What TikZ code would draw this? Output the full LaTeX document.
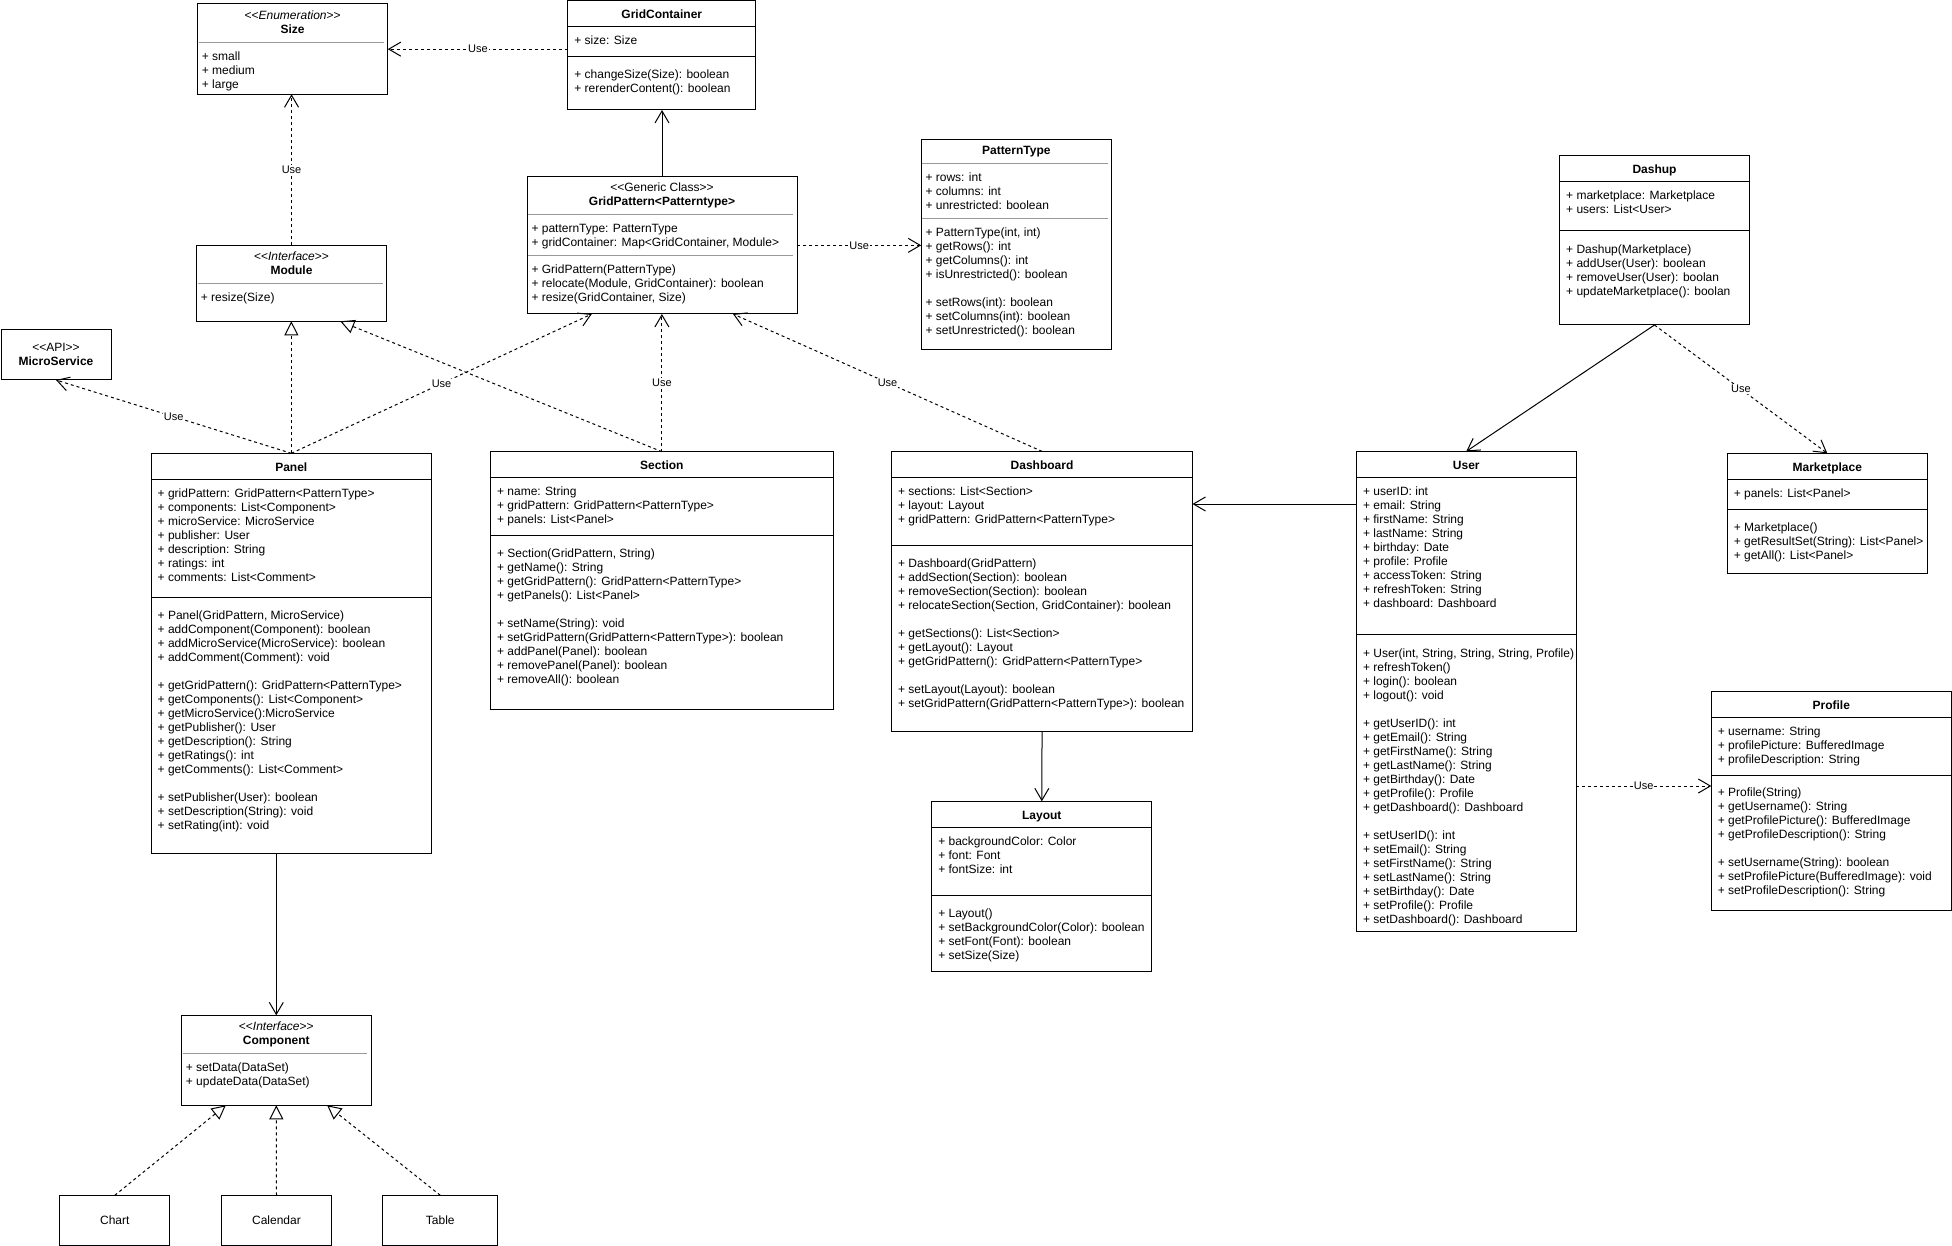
\documentclass[tikz,border=0pt]{standalone}
\usepackage{fontspec}
\setmainfont{Liberation Sans}
\usetikzlibrary{arrows.meta,calc,positioning}

\begin{document}
\begin{tikzpicture}[x=1pt,y=-1pt,line width=1pt,
    box/.style={draw,rectangle,inner sep=0pt,outer sep=0pt,anchor=north west,font=\fontsize{12}{14}\selectfont},
    txt/.style={inner sep=0pt,anchor=north west,align=left,font=\fontsize{12}{14}\selectfont},
    head/.style={inner sep=0pt,anchor=north,align=center,font=\fontsize{12}{14}\selectfont},
    hr/.style={draw=black!40},
    usedep/.style={dash pattern=on 3pt off 3pt,-{Straight Barb[length=12pt,width=14pt]}},
    realize/.style={dash pattern=on 3pt off 3pt,-{Triangle[open,length=14pt,width=14pt]}},
    assoc/.style={-{Straight Barb[length=12pt,width=14pt]}},
    lbl/.style={fill=white,inner sep=1pt,font=\fontsize{11}{13}\selectfont}]

  \useasboundingbox (0,0) rectangle (1952,1246);

  % Size
  \node[box,minimum width=190.4pt,minimum height=90.3pt] (size) at (197.4,4) {};
  \node[head] at (292.6,9.5) {\strut<{}<\textit{Enumeration}>{}>\\\textbf{Size}};
  \draw[hr] (198.5,42.3) -- (384,42.3);
  \node[txt] at (201.4,50.2) {\strut+ small\\+ medium\\+ large};

  % GridContainer
  \node[box,minimum width=187.7pt,minimum height=109pt] (gc) at (567.9,1) {};
  \node[head] at (661.8,7.8) {\strut\textbf{GridContainer}};
  \draw (567.9,26.3) -- (755.6,26.3);
  \node[txt] at (573.9,34.2) {\strut+ size: Size};
  \draw (567.9,56.3) -- (755.6,56.3);
  \node[txt] at (573.9,68.2) {\strut+ changeSize(Size): boolean\\+ rerenderContent(): boolean};

  % GridPattern
  \node[box,minimum width=270pt,minimum height=137.3pt] (gp) at (527,176.7) {};
  \node[head] at (662,181.2) {\strut<{}<Generic Class>{}>\\\textbf{GridPattern<Patterntype>}};
  \draw[hr] (528,214.3) -- (793,214.3);
  \node[txt] at (531,222.2) {\strut+ patternType: PatternType\\+ gridContainer: Map<GridContainer, Module>};
  \draw[hr] (528,255.3) -- (793,255.3);
  \node[txt] at (531,262.8) {\strut+ GridPattern(PatternType)\\+ relocate(Module, GridContainer): boolean\\+ resize(GridContainer, Size)};

  % Module
  \node[box,minimum width=190.3pt,minimum height=76pt] (module) at (196.4,245.3) {};
  \node[head] at (291.5,250.5) {\strut<{}<\textit{Interface}>{}>\\\textbf{Module}};
  \draw[hr] (197.5,283.7) -- (383,283.7);
  \node[txt] at (200.4,290.8) {\strut+ resize(Size)};

  % MicroService
  \node[box,minimum width=110pt,minimum height=50pt] (ms) at (1,330) {};
  \node[head] at (56,341.2) {\strut<{}<API>{}>\\\textbf{MicroService}};

  % PatternType
  \node[box,minimum width=190.3pt,minimum height=210pt] (pt) at (921.2,139.3) {};
  \node[head] at (1016.3,144.5) {\strut\textbf{PatternType}};
  \draw[hr] (922,163.3) -- (1108,163.3);
  \node[txt] at (925,171.5) {\strut+ rows: int\\+ columns: int\\+ unrestricted: boolean};
  \draw[hr] (922,218.3) -- (1108,218.3);
  \node[txt] at (925,226.2) {\strut+ PatternType(int, int)\\+ getRows(): int\\+ getColumns(): int\\+ isUnrestricted(): boolean\\[14pt]
    + setRows(int): boolean\\+ setColumns(int): boolean\\+ setUnrestricted(): boolean};

  % Dashup
  \node[box,minimum width=189.5pt,minimum height=169.7pt] (dashup) at (1559.7,155.3) {};
  \node[head] at (1654.5,163.5) {\strut\textbf{Dashup}};
  \draw (1559.7,181.3) -- (1749.2,181.3);
  \node[txt] at (1565.7,189.2) {\strut+ marketplace: Marketplace\\+ users: List<User>};
  \draw (1559.7,230.3) -- (1749.2,230.3);
  \node[txt] at (1565.7,243.2) {\strut+ Dashup(Marketplace)\\+ addUser(User): boolean\\+ removeUser(User): boolan\\+ updateMarketplace(): boolan};

  % Panel
  \node[box,minimum width=280.3pt,minimum height=400pt] (panel) at (151.2,453.3) {};
  \node[head] at (291.3,461.2) {\strut\textbf{Panel}};
  \draw (151.2,479.3) -- (431.5,479.3);
  \node[txt] at (157.2,487.2) {\strut+ gridPattern: GridPattern<PatternType>\\+ components: List<Component>\\+ microService: MicroService\\
    + publisher: User\\+ description: String\\+ ratings: int\\+ comments: List<Comment>};
  \draw (151.2,597.3) -- (431.5,597.3);
  \node[txt] at (157.2,609.2) {\strut+ Panel(GridPattern, MicroService)\\+ addComponent(Component): boolean\\+ addMicroService(MicroService): boolean\\
    + addComment(Comment): void\\[14pt]
    + getGridPattern(): GridPattern<PatternType>\\+ getComponents(): List<Component>\\+ getMicroService():MicroService\\
    + getPublisher(): User\\+ getDescription(): String\\+ getRatings(): int\\+ getComments(): List<Comment>\\[14pt]
    + setPublisher(User): boolean\\+ setDescription(String): void\\+ setRating(int): void};

  % Section
  \node[box,minimum width=342.6pt,minimum height=257.6pt] (section) at (490.6,451.7) {};
  \node[head] at (661.9,459.2) {\strut\textbf{Section}};
  \draw (490.6,477.3) -- (833.2,477.3);
  \node[txt] at (496.6,485.5) {\strut+ name: String\\+ gridPattern: GridPattern<PatternType>\\+ panels: List<Panel>};
  \draw (490.6,535.3) -- (833.2,535.3);
  \node[txt] at (496.6,547.2) {\strut+ Section(GridPattern, String)\\+ getName(): String\\+ getGridPattern(): GridPattern<PatternType>\\
    + getPanels(): List<Panel>\\[14pt]
    + setName(String): void\\+ setGridPattern(GridPattern<PatternType>): boolean\\+ addPanel(Panel): boolean\\
    + removePanel(Panel): boolean\\+ removeAll(): boolean};

  % Dashboard
  \node[box,minimum width=300.9pt,minimum height=279.6pt] (dash) at (891.6,451.4) {};
  \node[head] at (1042,459.3) {\strut\textbf{Dashboard}};
  \draw (891.6,477.2) -- (1192.5,477.2);
  \node[txt] at (897.6,485.1) {\strut+ sections: List<Section>\\+ layout: Layout\\+ gridPattern: GridPattern<PatternType>};
  \draw (891.6,545.4) -- (1192.5,545.4);
  \node[txt] at (897.6,557.1) {\strut+ Dashboard(GridPattern)\\+ addSection(Section): boolean\\+ removeSection(Section): boolean\\
    + relocateSection(Section, GridContainer): boolean\\[14pt]
    + getSections(): List<Section>\\+ getLayout(): Layout\\+ getGridPattern(): GridPattern<PatternType>\\[14pt]
    + setLayout(Layout): boolean\\+ setGridPattern(GridPattern<PatternType>): boolean};

  % Layout
  \node[box,minimum width=220pt,minimum height=169.7pt] (layout) at (931.8,801.3) {};
  \node[head] at (1041.8,809.2) {\strut\textbf{Layout}};
  \draw (931.8,827.5) -- (1151.8,827.5);
  \node[txt] at (937.8,835.4) {\strut+ backgroundColor: Color\\+ font: Font\\+ fontSize: int};
  \draw (931.8,895.3) -- (1151.8,895.3);
  \node[txt] at (937.8,907) {\strut+ Layout()\\+ setBackgroundColor(Color): boolean\\+ setFont(Font): boolean\\+ setSize(Size)};

  % User
  \node[box,minimum width=219.5pt,minimum height=480.1pt] (user) at (1356.5,451.4) {};
  \node[head] at (1466.3,459.3) {\strut\textbf{User}};
  \draw (1356.5,477.2) -- (1576,477.2);
  \node[txt] at (1362.5,485.1) {\strut+ userID: int\\+ email: String\\+ firstName: String\\+ lastName: String\\+ birthday: Date\\
    + profile: Profile\\+ accessToken: String\\+ refreshToken: String\\+ dashboard: Dashboard};
  \draw (1356.5,634.9) -- (1576,634.9);
  \node[txt] at (1362.5,647) {\strut+ User(int, String, String, String, Profile)\\+ refreshToken()\\+ login(): boolean\\+ logout(): void\\[14pt]
    + getUserID(): int\\+ getEmail(): String\\+ getFirstName(): String\\+ getLastName(): String\\+ getBirthday(): Date\\
    + getProfile(): Profile\\+ getDashboard(): Dashboard\\[14pt]
    + setUserID(): int\\+ setEmail(): String\\+ setFirstName(): String\\+ setLastName(): String\\+ setBirthday(): Date\\
    + setProfile(): Profile\\+ setDashboard(): Dashboard};

  % Marketplace
  \node[box,minimum width=200pt,minimum height=120pt] (mp) at (1727.3,453.3) {};
  \node[head] at (1827.3,461.2) {\strut\textbf{Marketplace}};
  \draw (1727.3,479.3) -- (1927.3,479.3);
  \node[txt] at (1733.3,487.2) {\strut+ panels: List<Panel>};
  \draw (1727.3,509.3) -- (1927.3,509.3);
  \node[txt] at (1733.3,521.2) {\strut+ Marketplace()\\+ getResultSet(String): List<Panel>\\+ getAll(): List<Panel>};

  % Profile
  \node[box,minimum width=240pt,minimum height=219pt] (profile) at (1711.3,691.7) {};
  \node[head] at (1831.3,699.2) {\strut\textbf{Profile}};
  \draw (1711.3,717.3) -- (1951.3,717.3);
  \node[txt] at (1717.3,725.2) {\strut+ username: String\\+ profilePicture: BufferedImage\\+ profileDescription: String};
  \draw (1711.3,775.3) -- (1951.3,775.3);
  \node[txt] at (1717.3,786.5) {\strut+ Profile(String)\\+ getUsername(): String\\+ getProfilePicture(): BufferedImage\\
    + getProfileDescription(): String\\[14pt]
    + setUsername(String): boolean\\+ setProfilePicture(BufferedImage): void\\+ setProfileDescription(): String};

  % Component and its kinds
  \node[box,minimum width=189.8pt,minimum height=90pt] (comp) at (181.4,1015.3) {};
  \node[head] at (276.3,1020.2) {\strut<{}<\textit{Interface}>{}>\\\textbf{Component}};
  \draw[hr] (182.5,1053) -- (367,1053);
  \node[txt] at (185.4,1061.2) {\strut+ setData(DataSet)\\+ updateData(DataSet)};

  \node[box,minimum width=110.2pt,minimum height=50pt] (chart) at (59.7,1195.3) {Chart};
  \node[box,minimum width=109.8pt,minimum height=50pt] (cal) at (221.6,1195.3) {Calendar};
  \node[box,minimum width=115.2pt,minimum height=50pt] (table) at (382.7,1195.3) {Table};

  % connectors
  \draw[usedep] (gc.west |- size.east) -- (size.east) node[midway,lbl] {Use};
  \draw[usedep] (module.north) -- (module.north |- size.south) node[midway,lbl] {Use};
  \draw[assoc] (gp.north) -- (gp.north |- gc.south);
  \draw[usedep] (gp.east) -- (gp.east -| pt.west) node[midway,lbl] {Use};
  \draw[usedep] (panel.north) -- (ms.south) node[midway,lbl] {Use};
  \draw[realize] (panel.north) -- (panel.north |- module.south);
  \draw[usedep] (panel.north) -- ($(gp.south west)!0.24!(gp.south east)$) node[midway,lbl] {Use};
  \draw[realize] (section.north) -- ($(module.south west)!0.756!(module.south east)$);
  \draw[usedep] (section.north) -- (section.north |- gp.south) node[midway,lbl] {Use};
  \draw[usedep] (dash.north) -- ($(gp.south west)!0.763!(gp.south east)$) node[midway,lbl] {Use};
  \draw[assoc] (dashup.south) -- (user.north);
  \draw[usedep] (dashup.south) -- (mp.north) node[midway,lbl] {Use};
  \coordinate (udash) at ($(user.north west)+(0,52.6)$);
  \draw[assoc] (udash) -- (udash -| dash.east);
  \draw[assoc] (dash.south) -- (layout.north);
  \coordinate (uprof) at ($(user.north east)+(0,334.6)$);
  \draw[usedep] (uprof) -- (uprof -| profile.west) node[midway,lbl] {Use};
  \draw[assoc] (comp.north |- panel.south) -- (comp.north);
  \draw[realize] (chart.north) -- ($(comp.south west)!0.234!(comp.south east)$);
  \draw[realize] (cal.north) -- (comp.south);
  \draw[realize] (table.north) -- ($(comp.south west)!0.768!(comp.south east)$);
\end{tikzpicture}
\end{document}
